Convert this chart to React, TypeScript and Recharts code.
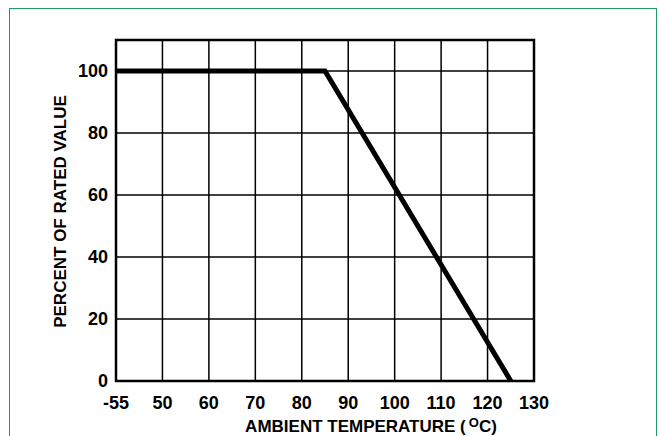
import { LineChart, Line, XAxis, YAxis, CartesianGrid, ReferenceArea } from 'recharts'

// derating curve, temperature in °C vs percent of rated value
const TEMPS = [-55, 85, 125]
const PERCENT = [100, 100, 0]

// the axis is broken: -55 sits in the slot where 40 would be
const BREAK_FROM = -55
const BREAK_TO = 40

const X_TICKS = [40, 50, 60, 70, 80, 90, 100, 110, 120, 130]
const X_TICK_LABELS = ['-55', '50', '60', '70', '80', '90', '100', '110', '120', '130']
const Y_TICKS = [0, 20, 40, 60, 80, 100]

const FONT = '"Liberation Sans", Arial, Helvetica, sans-serif'

const data = TEMPS.map((t, i) => ({ x: t === BREAK_FROM ? BREAK_TO : t, y: PERCENT[i] }))

function XTitle({ viewBox }: any) {
  const cx = viewBox.x + viewBox.width / 2 + 46
  return (
    <text
      x={cx}
      y={viewBox.y + 51}
      textAnchor="middle"
      fontFamily={FONT}
      fontWeight="bold"
      fontSize={17}
      fill="#000"
    >
      AMBIENT TEMPERATURE (
      <tspan fontSize={13} dy={-5} dx={3}>O</tspan>
      <tspan dy={5}>C)</tspan>
    </text>
  )
}

function YTitle({ viewBox }: any) {
  const cx = 60
  const cy = viewBox.y + viewBox.height / 2 + 1
  return (
    <text
      x={cx}
      y={cy}
      transform={`rotate(-90 ${cx} ${cy})`}
      textAnchor="middle"
      dominantBaseline="central"
      fontFamily={FONT}
      fontWeight="bold"
      fontSize={17}
      fill="#000"
    >
      PERCENT OF RATED VALUE
    </text>
  )
}

export default function App() {
  return (
    <div style={{ position: 'absolute', left: 0, top: 0, width: 660, height: 436, background: '#fff', overflow: 'hidden' }}>
      <div
        style={{
          position: 'absolute',
          left: 9,
          top: 8,
          width: 646,
          height: 440,
          border: '1.5px solid #1f9a62',
          borderBottom: 'none',
        }}
      />
      <LineChart
        width={660}
        height={436}
        data={data}
        margin={{ top: 40, right: 126, bottom: 25, left: 56 }}
        style={{ position: 'absolute', left: 0, top: 0 }}
      >
        <CartesianGrid stroke="#000" strokeWidth={1.5} />
        <XAxis
          dataKey="x"
          type="number"
          domain={[40, 130]}
          ticks={X_TICKS}
          tickFormatter={(v) => X_TICK_LABELS[X_TICKS.indexOf(v)]}
          axisLine={false}
          tickLine={false}
          tickSize={0}
          tickMargin={15}
          height={30}
          interval={0}
          tick={{ fill: '#000', fontSize: 18, fontWeight: 'bold', fontFamily: FONT }}
          label={<XTitle />}
        />
        <YAxis
          type="number"
          domain={[0, 110]}
          ticks={Y_TICKS}
          axisLine={false}
          tickLine={false}
          tickSize={0}
          tickMargin={8}
          width={60}
          interval={0}
          tick={{ fill: '#000', fontSize: 18, fontWeight: 'bold', fontFamily: FONT }}
          label={<YTitle />}
        />
        <ReferenceArea
          x1={40}
          x2={130}
          y1={0}
          y2={110}
          fill="none"
          fillOpacity={0}
          stroke="#000"
          strokeWidth={2.5}
          ifOverflow="visible"
        />
        <Line
          type="linear"
          dataKey="y"
          stroke="#000"
          strokeWidth={5}
          dot={false}
          isAnimationActive={false}
        />
      </LineChart>
    </div>
  )
}
